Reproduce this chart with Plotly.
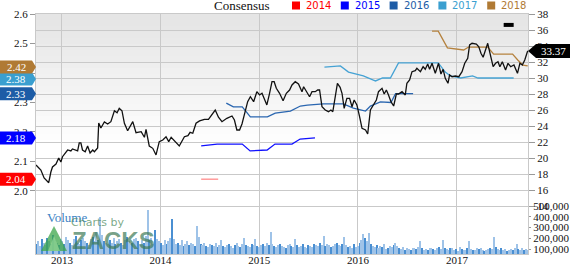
import plotly.graph_objects as go
import pandas as pd

# ---------------- DATA ----------------
price_dates = ["2012-09-27","2012-10-15","2012-10-27","2012-11-13","2012-11-21","2012-11-27","2012-12-10","2012-12-20","2012-12-28",
"2013-01-03","2013-01-22","2013-02-03","2013-02-09","2013-02-28","2013-03-06","2013-03-12","2013-03-18","2013-03-28","2013-04-06","2013-04-15","2013-04-25","2013-05-01","2013-05-13","2013-05-17","2013-05-25","2013-06-07","2013-06-19","2013-07-01","2013-07-14","2013-07-24","2013-08-01","2013-08-11","2013-08-20","2013-09-01","2013-09-20","2013-10-02","2013-10-21","2013-11-02","2013-11-08","2013-11-20","2013-12-03","2013-12-15","2013-12-27",
"2014-01-09","2014-01-21","2014-01-31","2014-02-09","2014-02-21","2014-03-11","2014-03-30","2014-04-12","2014-04-20","2014-04-30","2014-05-12","2014-05-25","2014-06-12","2014-06-27","2014-07-22","2014-08-03","2014-08-16","2014-09-03","2014-09-22","2014-10-01","2014-10-10","2014-10-20","2014-10-29","2014-11-10","2014-11-19","2014-11-29","2014-12-11","2014-12-23",
"2015-01-02","2015-01-11","2015-01-21","2015-01-29","2015-02-08","2015-02-17","2015-02-25","2015-03-05","2015-03-17","2015-03-30","2015-04-11","2015-04-23","2015-05-02","2015-05-14","2015-05-26","2015-06-08","2015-06-14","2015-06-27","2015-07-06","2015-07-15","2015-07-27","2015-08-05","2015-08-12","2015-08-21","2015-09-02","2015-09-14","2015-09-23","2015-09-30","2015-10-09","2015-10-17","2015-10-27","2015-11-03","2015-11-11","2015-11-21","2015-12-01","2015-12-10","2015-12-18","2015-12-28",
"2016-01-07","2016-01-16","2016-01-29","2016-02-06","2016-02-16","2016-02-28","2016-03-09","2016-03-17","2016-03-30","2016-04-07","2016-04-15","2016-04-23","2016-05-02","2016-05-12","2016-05-22","2016-05-30","2016-06-12","2016-06-24","2016-06-30","2016-07-10","2016-07-19","2016-07-31","2016-08-06","2016-08-19","2016-08-29","2016-09-06","2016-09-15","2016-09-22","2016-10-01","2016-10-13","2016-10-25","2016-11-03","2016-11-11","2016-11-19","2016-11-29","2016-12-05","2016-12-14","2016-12-26",
"2017-01-08","2017-01-20","2017-01-30","2017-02-10","2017-02-17","2017-02-26","2017-03-14","2017-03-23","2017-03-31","2017-04-08","2017-04-17","2017-04-25","2017-05-02","2017-05-08","2017-05-15","2017-05-24","2017-06-02","2017-06-09","2017-06-18","2017-06-30","2017-07-09","2017-07-19","2017-07-31","2017-08-13","2017-08-22","2017-08-31","2017-09-09","2017-09-19","2017-09-21"]

price_vals = [19.13,18.5,17.5,16.91,18.25,18.88,19.25,20.0,19.5,
20.16,21.0,20.88,21.13,20.88,21.88,21.88,21.0,20.79,21.5,20.63,21.0,20.79,21.25,24.38,23.75,24.5,24.25,24.54,25.91,25.66,26.21,25.91,24.34,23.41,24.54,23.16,23.29,22.59,23.59,21.5,21.21,20.38,22.04,
22.25,22.66,22.04,22.59,22.16,21.5,22.66,22.79,23.21,23.09,24.34,24.63,24.84,24.84,26.0,25.09,24.54,24.96,25.25,24.75,23.5,23.5,24.25,26.0,27.04,27.66,27.04,28.29,
27.88,28.09,27.25,26.63,28.09,29.54,29.54,28.71,28.09,27.16,28.09,28.5,29.13,29.54,29.25,28.29,28.91,28.09,27.66,28.29,28.29,28.5,28.5,26.41,26.0,25.79,26.0,25.79,27.88,29.34,28.84,28.09,26.21,27.46,27.46,26.41,27.25,26.63,
25.16,23.71,23.5,23.0,26.0,26.63,27.25,28.29,28.71,28.0,28.5,27.88,27.04,26.5,28.0,28.0,28.29,27.88,29.34,29.75,30.79,30.91,31.21,30.79,31.41,31.09,31.75,31.09,31.84,30.59,31.84,30.5,31.09,29.96,29.34,30.38,30.16,30.25,
30.16,30.79,31.84,32.46,34.13,34.34,34.25,33.91,33.09,32.59,33.5,34.34,33.29,32.46,31.41,31.84,32.04,31.41,32.04,31.0,31.84,31.41,31.63,30.59,31.84,31.63,32.25,33.29,33.37]

cons_2014_dates = ["2014-05-31", "2014-08-02"]
cons_2014_vals = [2.04, 2.04]

cons_2015_dates = ["2014-05-31","2014-07-29","2014-10-30","2014-11-28","2015-01-30","2015-02-28","2015-05-02","2015-06-01","2015-07-26"]
cons_2015_vals = [2.153,2.159,2.159,2.136,2.139,2.159,2.159,2.176,2.18]

cons_2016_dates = ["2014-09-01","2014-09-27","2014-10-30","2014-11-29","2015-01-31","2015-03-01","2015-04-26","2015-06-02","2015-06-28","2015-08-26","2015-11-08","2015-12-15","2016-01-29","2016-02-16","2016-03-24","2016-05-02","2016-05-19","2016-07-23"]
cons_2016_vals = [2.298,2.285,2.285,2.251,2.251,2.264,2.271,2.288,2.291,2.295,2.295,2.281,2.271,2.288,2.302,2.300,2.33,2.33]

cons_2017_dates = ["2015-08-30","2015-10-28","2015-11-27","2016-01-21","2016-02-27","2016-03-06","2016-04-01","2016-04-30","2016-05-30","2016-10-24","2016-11-19","2016-12-08","2017-01-15","2017-02-28","2017-03-20","2017-07-30"]
cons_2017_vals = [2.420,2.424,2.403,2.390,2.376,2.373,2.383,2.383,2.434,2.434,2.403,2.390,2.383,2.390,2.383,2.383]

cons_2018_dates = ["2016-10-01","2016-10-24","2016-11-27","2017-01-26","2017-02-13","2017-04-25","2017-05-17","2017-07-26","2017-08-14","2017-09-02","2017-09-20"]
cons_2018_vals = [2.542,2.542,2.485,2.478,2.488,2.488,2.464,2.464,2.444,2.427,2.424]

extra_dates = ["2017-06-23", "2017-07-30"]
extra_vals = [2.563, 2.563]

# weekly volume (thousands of shares)
volume_k = [150,170,130,190,160,140,200,170,150,230,
180,160,140,190,170,150,210,180,160,140,
190,220,160,150,180,200,170,160,140,190,
210,170,260,180,400,230,170,160,150,180,
160,200,150,170,190,160,140,180,210,170,
150,160,190,200,170,150,180,160,220,460,
180,200,150,280,190,170,160,140,180,150,
170,200,380,190,150,160,140,180,130,150,
170,140,160,150,130,314,212,150,140,160,
130,120,150,140,130,160,120,140,185,130,
120,140,150,130,110,140,160,130,120,150,
200,140,130,120,150,140,190,130,120,140,
150,130,160,140,258,150,130,120,140,150,
130,120,110,140,150,130,120,190,140,120,
130,150,120,110,140,130,120,150,140,130,
160,140,220,130,150,140,120,130,150,160,
140,130,150,210,140,120,130,110,150,120,
130,160,180,240,200,170,250,150,130,120,
140,110,130,120,150,100,110,130,120,140,
156,130,110,100,120,90,110,100,95,105,
110,100,120,170,110,95,100,90,105,110,
100,95,110,120,100,180,110,100,90,105,
110,95,100,85,120,100,90,95,110,170,
100,90,95,105,100,110,90,85,95,100,
110,100,212,120,100,90,110,95,100,85,
95,100,90,110,150,100,95,110,90,100,
95]
volume_start = "2012-09-27"

year_ticks = ["2013-01-01", "2014-01-01", "2015-01-01", "2016-01-01", "2017-01-01"]
year_labels = ["2013", "2014", "2015", "2016", "2017"]
eps_ticks = [2.0, 2.1, 2.2, 2.3, 2.4, 2.5, 2.6]
price_ticks = list(range(14, 39, 2))
vol_ticks = [100000, 200000, 300000, 400000, 500000]

series_names = ["2014", "2015", "2016", "2017", "2018"]
last_eps = [2.04, 2.18, 2.33, 2.38, 2.42]
last_price = 33.37

# ---------------- STYLE ----------------
W, H = 570, 264
L, R, T, B = 36, 528, 14, 254
def px_x(p): return (p - L) / (R - L)
def px_y(p): return (B - p) / (B - T)

line_colors = {"2014": "#ff8c8c", "2015": "#1010ff", "2016": "#2a66b0", "2017": "#45a2d4", "2018": "#b5823e"}
badge_colors = {"2014": "#ff0000", "2015": "#0000ff", "2016": "#1d5ca6", "2017": "#3a9fd0", "2018": "#b07a34"}
legend_colors = badge_colors
SERIF = "Liberation Serif"
GRID = "#c9c9c9"

fig = go.Figure()

vol_dates = pd.date_range(volume_start, periods=len(volume_k), freq="7D")
bar_cols = ["#9fc3e8" if i % 3 else "#4a8fd2" for i in range(len(volume_k))]
fig.add_trace(go.Bar(x=vol_dates, y=[v * 1000 for v in volume_k], yaxis="y3",
                     marker=dict(color=bar_cols, line_width=0), width=4.2 * 86400000,
                     showlegend=False, hoverinfo="skip"))

cons = [(cons_2014_dates, cons_2014_vals, "2014"), (cons_2015_dates, cons_2015_vals, "2015"),
        (cons_2016_dates, cons_2016_vals, "2016"), (cons_2017_dates, cons_2017_vals, "2017"),
        (cons_2018_dates, cons_2018_vals, "2018")]
for d, v, n in cons:
    fig.add_trace(go.Scatter(x=d, y=v, mode="lines", yaxis="y", name=n,
                             line=dict(color=line_colors[n], width=1.3), showlegend=False))
fig.add_trace(go.Scatter(x=extra_dates, y=extra_vals, mode="lines", yaxis="y",
                         line=dict(color="#000000", width=4), showlegend=False))

fig.add_trace(go.Scatter(x=price_dates, y=price_vals, mode="lines", yaxis="y2",
                         line=dict(color="#111111", width=1.3), showlegend=False))

shapes = []
# background gradient
nb = 22
for i in range(nb):
    y0 = T + i * 6
    g = int(229 + (255 - 229) * i / (nb - 1))
    shapes.append(dict(type="rect", xref="paper", yref="paper", x0=0, x1=1,
                       y0=px_y(y0 + 6), y1=px_y(y0), fillcolor=f"rgb({g},{g},{g})",
                       line_width=0, layer="below"))

annotations = []
# left badges
for n, v in zip(series_names, last_eps):
    shapes.append(dict(type="path", xref="paper", yref="y", xsizemode="pixel", ysizemode="pixel",
                       xanchor=0, yanchor=v, path="M -36 -6.5 L -4 -6.5 L 0 0 L -4 6.5 L -36 6.5 Z",
                       fillcolor=badge_colors[n], line_width=0))
    annotations.append(dict(x=px_x(16), y=v, xref="paper", yref="y", text=f"{v:.2f}",
                            showarrow=False, xanchor="center", yanchor="middle",
                            font=dict(family=SERIF, size=11, color="white")))
# right badge
shapes.append(dict(type="path", xref="paper", yref="y2", xsizemode="pixel", ysizemode="pixel",
                   xanchor=1, yanchor=last_price, path="M 0 0 L 8 -7 L 42 -7 L 42 7 L 8 7 Z",
                   fillcolor="#000000", line_width=0))
annotations.append(dict(x=px_x(553), y=last_price, xref="paper", yref="y2", text=f"{last_price:.2f}",
                        showarrow=False, xanchor="center", yanchor="middle",
                        font=dict(family=SERIF, size=11, color="white")))

# legend
annotations.append(dict(x=px_x(241.5), y=px_y(5.5), xref="paper", yref="paper", text="Consensus",
                        showarrow=False, xanchor="center", yanchor="middle",
                        font=dict(family=SERIF, size=13, color="#111111")))
for i, n in enumerate(series_names):
    sx = 292 + i * 48.8
    shapes.append(dict(type="rect", xref="paper", yref="paper", x0=px_x(sx), x1=px_x(sx + 8),
                       y0=px_y(9.5), y1=px_y(1.5), fillcolor=legend_colors[n], line_width=0))
    annotations.append(dict(x=px_x(sx + 12), y=px_y(5.5), xref="paper", yref="paper", text=n,
                            showarrow=False, xanchor="left", yanchor="middle",
                            font=dict(family="DejaVu Sans", size=10, color=legend_colors[n])))

# volume label and watermark
annotations.append(dict(x=px_x(45), y=px_y(217), xref="paper", yref="paper", text="Volume",
                        showarrow=False, xanchor="left", yanchor="middle",
                        font=dict(family=SERIF, size=13, color="#3b82c4")))
shapes.append(dict(type="path", xref="paper", yref="paper",
                   path=f"M {px_x(54)} {px_y(226)} L {px_x(67)} {px_y(251)} L {px_x(41)} {px_y(251)} Z",
                   fillcolor="rgba(60,165,75,0.75)", line_width=0))
shapes.append(dict(type="path", xref="paper", yref="paper",
                   path=f"M {px_x(54)} {px_y(236)} L {px_x(60)} {px_y(251)} L {px_x(48)} {px_y(251)} Z",
                   fillcolor="rgba(150,215,150,0.7)", line_width=0))
annotations.append(dict(x=px_x(97), y=px_y(222), xref="paper", yref="paper", text="Charts by",
                        showarrow=False, xanchor="center", yanchor="middle",
                        font=dict(family="DejaVu Sans", size=11, color="rgba(80,140,95,0.75)")))
annotations.append(dict(x=px_x(113), y=px_y(240), xref="paper", yref="paper", text="<b>ZACKS</b>",
                        showarrow=False, xanchor="center", yanchor="middle",
                        font=dict(family="Liberation Sans", size=24, color="rgba(60,120,85,0.7)")))

fig.update_layout(
    width=W, height=H, margin=dict(l=L, r=W - R, t=T, b=H - B, autoexpand=False),
    paper_bgcolor="white", plot_bgcolor="white",
    showlegend=False, bargap=0,
    xaxis=dict(type="date", range=["2012-09-27", "2017-09-21"], tickvals=year_ticks, ticktext=year_labels,
               showgrid=True, gridcolor=GRID, gridwidth=1, showline=True, linecolor=GRID, mirror=True,
               ticks="", tickfont=dict(family=SERIF, size=11, color="#111"), zeroline=False,
               automargin=False, ticklabelstandoff=-4),
    yaxis=dict(range=[1.7864, 2.6], tickvals=eps_ticks, ticktext=[f"{t:.1f}" for t in eps_ticks],
               showgrid=False, zeroline=False, showline=True, linecolor=GRID, ticks="outside",
               ticklen=5, tickcolor="#999", tickfont=dict(family=SERIF, size=11, color="#111"),
               automargin=False),
    yaxis2=dict(range=[8, 38], tickvals=price_ticks, ticktext=[str(t) for t in price_ticks],
                overlaying="y", side="right", showgrid=True, gridcolor=GRID, gridwidth=1,
                zeroline=False, showline=True, linecolor=GRID, ticks="outside", ticklen=6,
                tickcolor="#999", tickfont=dict(family=SERIF, size=11, color="#111"),
                automargin=False),
    yaxis3=dict(range=[53500, 2286000], tickvals=vol_ticks, ticktext=[f"{t:,}" for t in vol_ticks],
                overlaying="y", side="right", showgrid=False, zeroline=False, ticks="outside",
                ticklen=2, tickcolor="#999", tickfont=dict(family=SERIF, size=11, color="#111"),
                automargin=False),
    shapes=shapes, annotations=annotations,
)

fig.write_html("out.html", config={"displayModeBar": False})
